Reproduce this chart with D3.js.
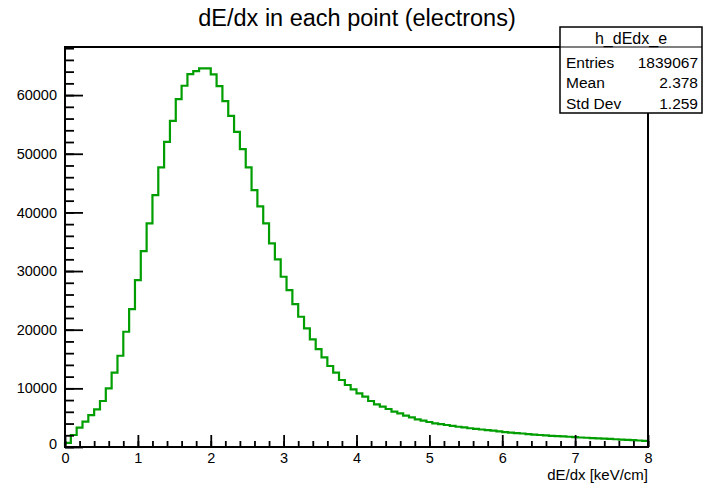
<!DOCTYPE html>
<html>
<head>
<meta charset="utf-8">
<script src="https://cdn.jsdelivr.net/npm/d3@7"></script>
<style>
  html, body { margin: 0; padding: 0; background: #fff; }
  svg { display: block; font-family: "Liberation Sans", Arial, Helvetica, sans-serif; }
</style>
</head>
<body>
<svg id="chart" width="703" height="486"></svg>
<script>
// Histogram h_dEdx_e : 100 bins between 0 and 8 keV/cm
const binLow = 0;
const binHigh = 8;
const binCounts = [
  700, 2045, 3300, 4320, 5450, 6420, 7840, 10000, 12670, 15560,
  19650, 23520, 28460, 33400, 38130, 42950, 47670, 52040, 55620, 59310,
  61590, 63580, 64090, 64550, 64550, 63520, 61530, 58970, 56470, 53740,
  50790, 47670, 43800, 41030, 38130, 34720, 31990, 29030, 26760, 24370,
  22210, 20230, 18350, 16700, 15280, 13810, 12670, 11420, 10570, 9830,
  9150, 8580, 7840, 7270, 6870, 6480, 6020, 5740, 5340, 5060,
  4720, 4490, 4260, 4040, 3900, 3750, 3600, 3450, 3330, 3200,
  3080, 2980, 2880, 2780, 2650, 2550, 2450, 2380, 2300, 2200,
  2100, 2050, 1980, 1900, 1850, 1800, 1750, 1680, 1620, 1580,
  1520, 1460, 1420, 1370, 1320, 1260, 1210, 1160, 1110, 1060
];
const xTickValues = [0, 1, 2, 3, 4, 5, 6, 7, 8];
const yTickValues = [0, 10000, 20000, 30000, 40000, 50000, 60000];
const yMax = 68200;

const titleText = "dE/dx in each point (electrons)";
const xTitle = "dE/dx [keV/cm]";
const statsName = "h_dEdx_e";
const statsLabels = ["Entries", "Mean", "Std Dev"];
const statsValues = ["1839067", "2.378", "1.259"];

const frame = { left: 65, right: 648, top: 47, bottom: 447 };
const svg = d3.select("#chart");

const x = d3.scaleLinear().domain([binLow, binHigh]).range([frame.left, frame.right]);
const y = d3.scaleLinear().domain([0, yMax]).range([frame.bottom, frame.top]);

const binWidth = (binHigh - binLow) / binCounts.length;

// Title
svg.append("text")
  .attr("x", 357).attr("y", 26)
  .attr("text-anchor", "middle")
  .attr("font-size", 23.5)
  .attr("fill", "#000")
  .text(titleText);

// Histogram outline as a step path
const pts = [[x(binLow), y(0)]];
binCounts.forEach((c, i) => {
  const x0 = x(binLow + i * binWidth), x1 = x(binLow + (i + 1) * binWidth);
  pts.push([x0, y(c)], [x1, y(c)]);
});
svg.append("path")
  .attr("d", d3.line()(pts))
  .attr("fill", "none")
  .attr("stroke", "#009e00")
  .attr("stroke-width", 2.2)
  .attr("stroke-linejoin", "miter");

// Minor / major ticks
const yMinor = d3.range(0, yMax, 2000);
const xMinor = d3.range(0, 8.0001, 0.2);

const yAxisMinor = d3.axisRight(y).tickValues(yMinor).tickSize(9).tickFormat("");
const yAxisMajor = d3.axisRight(y).tickValues(yTickValues).tickSize(18).tickFormat("");
const xAxisMinor = d3.axisTop(x).tickValues(xMinor).tickSize(6).tickFormat("");
const xAxisMajor = d3.axisTop(x).tickValues(xTickValues).tickSize(12).tickFormat("");

[yAxisMinor, yAxisMajor].forEach(a => {
  const g = svg.append("g").attr("transform", `translate(${frame.left},0)`).call(a);
  g.select(".domain").remove();
  g.selectAll("line").attr("stroke", "#000").attr("stroke-width", 1.8);
});
[xAxisMinor, xAxisMajor].forEach(a => {
  const g = svg.append("g").attr("transform", `translate(0,${frame.bottom})`).call(a);
  g.select(".domain").remove();
  g.selectAll("line").attr("stroke", "#000").attr("stroke-width", 1.8);
});

// Tick labels
const yLab = d3.axisLeft(y).tickValues(yTickValues).tickSize(0).tickPadding(8).tickFormat(d3.format("d"));
const gyl = svg.append("g").attr("transform", `translate(${frame.left},0)`).call(yLab);
gyl.select(".domain").remove();
gyl.selectAll("text").attr("font-size", 14.5).attr("font-family", "Liberation Sans, Arial, sans-serif").attr("fill", "#000");
gyl.selectAll(".tick").filter(d => d === 0).select("text").attr("dy", "0.1em");

const xLab = d3.axisBottom(x).tickValues(xTickValues).tickSize(0).tickPadding(6).tickFormat(d3.format("d"));
const gxl = svg.append("g").attr("transform", `translate(0,${frame.bottom})`).call(xLab);
gxl.select(".domain").remove();
gxl.selectAll("text").attr("font-size", 14.5).attr("font-family", "Liberation Sans, Arial, sans-serif").attr("fill", "#000");

// Frame
svg.append("rect")
  .attr("x", frame.left).attr("y", frame.top)
  .attr("width", frame.right - frame.left).attr("height", frame.bottom - frame.top)
  .attr("fill", "none").attr("stroke", "#000").attr("stroke-width", 2);

// X axis title
svg.append("text")
  .attr("x", frame.right).attr("y", 480)
  .attr("text-anchor", "end")
  .attr("font-size", 15)
  .attr("fill", "#000")
  .text(xTitle);

// Statistics box
const box = { left: 560, right: 702, top: 27, bottom: 113, header: 47 };
svg.append("rect")
  .attr("x", box.left).attr("y", box.top)
  .attr("width", box.right - box.left).attr("height", box.bottom - box.top)
  .attr("fill", "#fff").attr("stroke", "#000").attr("stroke-width", 1.5);
svg.append("line")
  .attr("x1", box.left).attr("x2", box.right)
  .attr("y1", box.header).attr("y2", box.header)
  .attr("stroke", "#000").attr("stroke-width", 1.2);
svg.append("text")
  .attr("x", (box.left + box.right) / 2).attr("y", 44)
  .attr("text-anchor", "middle").attr("font-size", 16).attr("fill", "#000")
  .text(statsName);
const rowY = [68, 88, 109];
statsLabels.forEach((lab, i) => {
  svg.append("text").attr("x", box.left + 6).attr("y", rowY[i])
    .attr("font-size", 15.5).attr("fill", "#000").text(lab);
  svg.append("text").attr("x", box.right - 4).attr("y", rowY[i])
    .attr("text-anchor", "end").attr("font-size", 15.5).attr("fill", "#000").text(statsValues[i]);
});
</script>
</body>
</html>
